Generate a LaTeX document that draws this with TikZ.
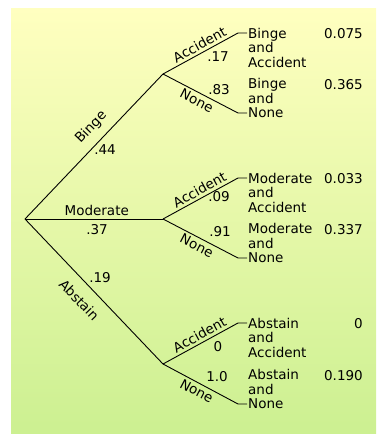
\documentclass[tikz,border=0pt]{standalone}
\usepackage{fontspec}
\setmainfont{DejaVu Sans}
\definecolor{bgtop}{RGB}{255,255,192}
\definecolor{bgbot}{RGB}{204,240,145}
\begin{document}
\begin{tikzpicture}[x=1pt,y=-1pt,
  branch/.style={line width=0.9pt, line join=round},
  lbl/.style={font=\fontsize{13.5}{14.5}\selectfont, inner sep=2pt},
  leafA/.style={lbl, align=left, anchor=north west, inner sep=0pt},
  leafN/.style={lbl, align=left, anchor=south west, inner sep=0pt},
  val/.style={lbl, anchor=base east, inner sep=0pt},
  prob/.style={lbl}]
\useasboundingbox (0,0) rectangle (376,434);
\shade[top color=bgtop, bottom color=bgbot] (11,8) rectangle (376,434);
% tree points
\coordinate (R) at (25,219);
\coordinate (B) at (163,74);
\coordinate (M) at (163,219);
\coordinate (A) at (163,364);
\coordinate (B1) at (238,33);  \coordinate (B1s) at (247,33);
\coordinate (B2) at (238,113); \coordinate (B2s) at (247,113);
\coordinate (M1) at (238,178); \coordinate (M1s) at (247,178);
\coordinate (M2) at (238,258); \coordinate (M2s) at (247,258);
\coordinate (A1) at (238,323); \coordinate (A1s) at (247,323);
\coordinate (A2) at (238,404); \coordinate (A2s) at (247,404);
% first level
\draw[branch] (R) -- node[lbl, sloped, pos=.56, above=6.3pt] {Binge} (B);
\draw[branch] (R) -- node[lbl, pos=.52, above=1pt] {Moderate} (M);
\draw[branch] (R) -- node[lbl, sloped, pos=.48, below=8.9pt] {Abstain} (A);
% second level
\draw[branch] (B) -- node[lbl, sloped, pos=.54, above=0.5pt] {Accident} (B1) -- (B1s);
\draw[branch] (B) -- node[lbl, sloped, pos=.5, below=0.5pt] {None} (B2) -- (B2s);
\draw[branch] (M) -- node[lbl, sloped, pos=.54, above=0.5pt] {Accident} (M1) -- (M1s);
\draw[branch] (M) -- node[lbl, sloped, pos=.5, below=0.5pt] {None} (M2) -- (M2s);
\draw[branch] (A) -- node[lbl, sloped, pos=.54, above=0.5pt] {Accident} (A1) -- (A1s);
\draw[branch] (A) -- node[lbl, sloped, pos=.5, below=0.5pt] {None} (A2) -- (A2s);
% probabilities
\node[prob] (pB) at (105,150) {.44};
\node[prob] (pM) at (97,230) {.37};
\node[prob] (pA) at (100,278) {.19};
\node[prob] (pBA) at (218,57) {.17};
\node[prob] (pBN) at (219,90) {.83};
\node[prob] (pMA) at (219,197) {.09};
\node[prob] (pMN) at (220,232) {.91};
\node[prob] (pAA) at (218,347) {0};
\node[prob] (pAN) at (217,377) {1.0};
% outcomes
\node[leafA] (oBA) at (248,27.7) {Binge\\and\\Accident};
\node[leafN] (oBN) at (248,118) {Binge\\and\\None};
\node[leafA] (oMA) at (248,172.7) {Moderate\\and\\Accident};
\node[leafN] (oMN) at (248,263) {Moderate\\and\\None};
\node[leafA] (oAA) at (248,317.7) {Abstain\\and\\Accident};
\node[leafN] (oAN) at (248,409) {Abstain\\and\\None};
% joint probabilities
\node[val] (vBA) at (363,38) {0.075};
\node[val] (vBN) at (363,89) {0.365};
\node[val] (vMA) at (363,183) {0.033};
\node[val] (vMN) at (363,234) {0.337};
\node[val] (vAA) at (363,328) {0};
\node[val] (vAN) at (363,380) {0.190};
\end{tikzpicture}
\end{document}
